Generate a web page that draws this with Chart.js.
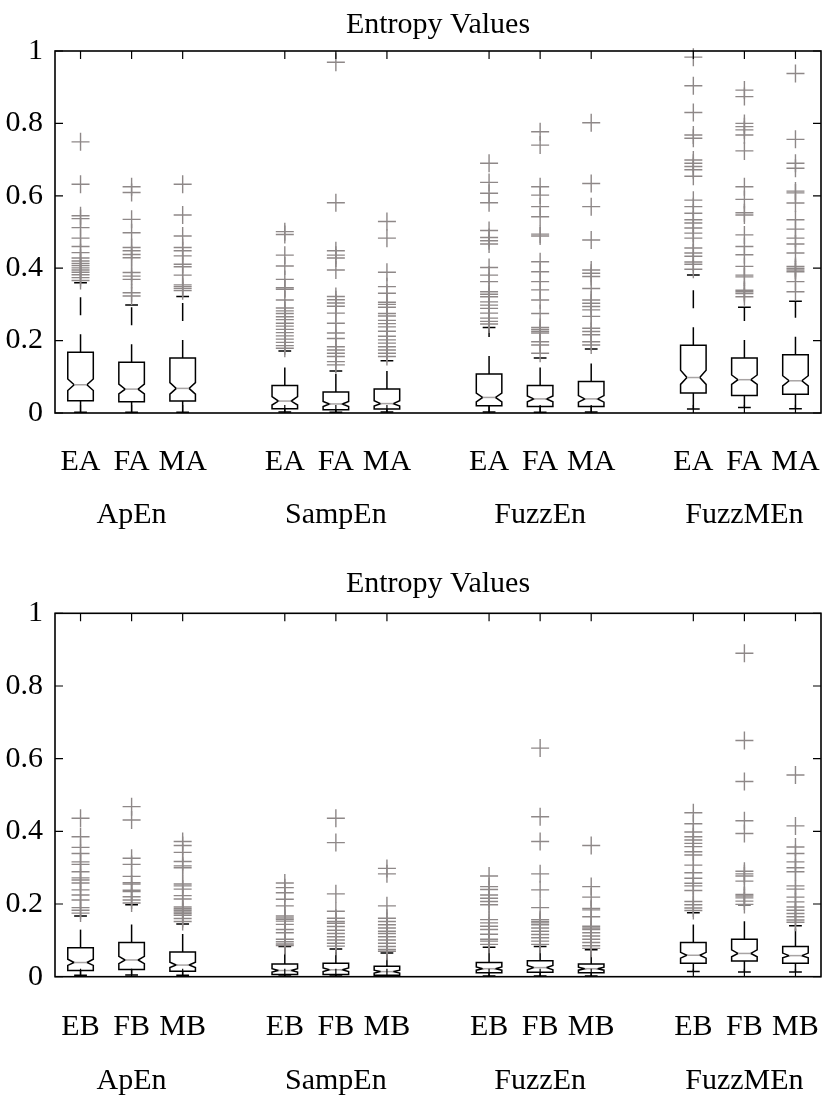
<!DOCTYPE html>
<html>
<head>
<meta charset="utf-8">
<script src="https://cdn.jsdelivr.net/npm/chart.js@4.4.1/dist/chart.umd.min.js"></script>
<style>
html,body{margin:0;padding:0;background:#fff;}
#wrap{position:relative;width:824px;height:1097px;overflow:hidden;}
#c1{position:absolute;left:0;top:0;}
#c2{position:absolute;left:0;top:560px;}
</style>
</head>
<body>
<div id="wrap">
<canvas id="c1" width="824" height="560"></canvas>
<canvas id="c2" width="824" height="537"></canvas>
</div>
<script>
// ---------- shared categories / ticks ----------
const groups = ['ApEn', 'SampEn', 'FuzzEn', 'FuzzMEn'];
const topSubs = ['EA', 'FA', 'MA'];
const botSubs = ['EB', 'FB', 'MB'];
const positions = [1, 2, 3, 5, 6, 7, 9, 10, 11, 13, 14, 15];
const yTickValues = [0, 0.2, 0.4, 0.6, 0.8, 1];
const yTickLabels = ['0', '0.2', '0.4', '0.6', '0.8', '1'];
const titleText = 'Entropy Values';

// ---------- top panel (EA / FA / MA) ----------
const topLowW   = [0.002, 0.002, 0.002, 0.003, 0.002, 0.003, 0.003, 0.002, 0.003, 0.011, 0.015, 0.012];
const topQ1     = [0.034, 0.031, 0.033, 0.012, 0.009, 0.011, 0.020, 0.018, 0.018, 0.055, 0.048, 0.052];
const topNotchLo= [0.062, 0.053, 0.052, 0.022, 0.018, 0.019, 0.031, 0.031, 0.030, 0.079, 0.079, 0.075];
const topMed    = [0.078, 0.066, 0.068, 0.033, 0.025, 0.026, 0.043, 0.039, 0.039, 0.098, 0.092, 0.089];
const topNotchHi= [0.094, 0.080, 0.084, 0.045, 0.032, 0.034, 0.055, 0.047, 0.048, 0.118, 0.105, 0.103];
const topQ3     = [0.168, 0.140, 0.152, 0.076, 0.058, 0.066, 0.108, 0.076, 0.087, 0.187, 0.152, 0.161];
const topHighW  = [0.360, 0.298, 0.322, 0.171, 0.116, 0.144, 0.236, 0.152, 0.177, 0.381, 0.292, 0.309];
const topOut = [
  [0.749, 0.632, 0.545, 0.537, 0.512, 0.483, 0.460, 0.443, 0.428, 0.420, 0.413, 0.407, 0.401, 0.395, 0.389, 0.382, 0.374, 0.366],
  [0.625, 0.609, 0.535, 0.498, 0.457, 0.448, 0.438, 0.429, 0.388, 0.378, 0.369, 0.332, 0.323],
  [0.632, 0.547, 0.489, 0.457, 0.448, 0.434, 0.411, 0.404, 0.381, 0.354, 0.349, 0.344, 0.338],
  [0.501, 0.493, 0.436, 0.406, 0.369, 0.346, 0.342, 0.312, 0.290, 0.282, 0.275, 0.266, 0.258, 0.248, 0.240, 0.231, 0.222, 0.213, 0.204, 0.195, 0.186, 0.179],
  [0.969, 0.581, 0.448, 0.436, 0.428, 0.395, 0.322, 0.313, 0.304, 0.295, 0.276, 0.248, 0.221, 0.206, 0.183, 0.174, 0.165, 0.156, 0.142, 0.133],
  [0.529, 0.483, 0.389, 0.349, 0.331, 0.306, 0.300, 0.292, 0.275, 0.268, 0.256, 0.247, 0.238, 0.226, 0.212, 0.202, 0.193, 0.183, 0.174, 0.165, 0.156],
  [0.690, 0.637, 0.607, 0.581, 0.504, 0.485, 0.476, 0.467, 0.402, 0.381, 0.363, 0.335, 0.328, 0.321, 0.307, 0.298, 0.289, 0.276, 0.262, 0.253, 0.246],
  [0.777, 0.740, 0.625, 0.602, 0.570, 0.542, 0.494, 0.489, 0.418, 0.390, 0.363, 0.340, 0.312, 0.275, 0.236, 0.231, 0.226, 0.221, 0.197, 0.188, 0.165],
  [0.802, 0.634, 0.570, 0.478, 0.395, 0.386, 0.377, 0.344, 0.312, 0.303, 0.294, 0.285, 0.267, 0.234, 0.225, 0.216, 0.197, 0.188],
  [0.983, 0.904, 0.830, 0.768, 0.759, 0.699, 0.690, 0.681, 0.672, 0.654, 0.588, 0.570, 0.552, 0.534, 0.525, 0.511, 0.497, 0.483, 0.456, 0.442, 0.433, 0.417, 0.411, 0.397],
  [0.892, 0.874, 0.800, 0.791, 0.782, 0.768, 0.724, 0.625, 0.590, 0.553, 0.547, 0.492, 0.460, 0.437, 0.405, 0.381, 0.376, 0.339, 0.335, 0.330, 0.321],
  [0.938, 0.756, 0.690, 0.676, 0.613, 0.608, 0.580, 0.534, 0.508, 0.483, 0.467, 0.442, 0.405, 0.400, 0.395, 0.390, 0.363, 0.335]
];

// ---------- bottom panel (EB / FB / MB) ----------
const botLowW   = [0.004, 0.005, 0.004, 0.002, 0.002, 0.001, 0.002, 0.002, 0.002, 0.014, 0.013, 0.013];
const botQ1     = [0.017, 0.020, 0.015, 0.006, 0.006, 0.004, 0.011, 0.012, 0.011, 0.037, 0.043, 0.037];
const botNotchLo= [0.031, 0.036, 0.025, 0.013, 0.014, 0.010, 0.018, 0.019, 0.018, 0.051, 0.055, 0.052];
const botMed    = [0.039, 0.046, 0.032, 0.017, 0.019, 0.014, 0.022, 0.025, 0.022, 0.059, 0.064, 0.058];
const botNotchHi= [0.048, 0.056, 0.040, 0.022, 0.024, 0.018, 0.027, 0.031, 0.026, 0.067, 0.074, 0.065];
const botQ3     = [0.080, 0.094, 0.068, 0.035, 0.037, 0.029, 0.039, 0.044, 0.035, 0.094, 0.103, 0.083];
const botHighW  = [0.167, 0.198, 0.145, 0.083, 0.076, 0.065, 0.081, 0.083, 0.074, 0.176, 0.198, 0.140];
const botOut = [
  [0.436, 0.385, 0.356, 0.339, 0.316, 0.309, 0.289, 0.272, 0.266, 0.258, 0.239, 0.225, 0.211, 0.190, 0.183, 0.175],
  [0.468, 0.431, 0.326, 0.309, 0.276, 0.259, 0.255, 0.238, 0.234, 0.220, 0.211, 0.203],
  [0.372, 0.361, 0.342, 0.317, 0.305, 0.300, 0.255, 0.250, 0.241, 0.223, 0.214, 0.192, 0.187, 0.183, 0.178, 0.174, 0.169, 0.160, 0.152],
  [0.258, 0.245, 0.231, 0.213, 0.195, 0.167, 0.162, 0.158, 0.153, 0.144, 0.130, 0.121, 0.103, 0.096, 0.090, 0.086],
  [0.436, 0.369, 0.228, 0.180, 0.161, 0.152, 0.147, 0.138, 0.128, 0.119, 0.110, 0.101, 0.092, 0.084],
  [0.298, 0.283, 0.195, 0.161, 0.152, 0.143, 0.134, 0.125, 0.119, 0.110, 0.101, 0.092, 0.083, 0.075, 0.070],
  [0.277, 0.248, 0.240, 0.225, 0.216, 0.207, 0.198, 0.157, 0.148, 0.139, 0.130, 0.117, 0.103, 0.098, 0.089],
  [0.629, 0.440, 0.372, 0.283, 0.239, 0.190, 0.157, 0.152, 0.148, 0.143, 0.134, 0.125, 0.116, 0.107, 0.098, 0.089],
  [0.361, 0.248, 0.219, 0.188, 0.184, 0.165, 0.139, 0.134, 0.130, 0.121, 0.112, 0.103, 0.094, 0.085, 0.078],
  [0.451, 0.421, 0.398, 0.385, 0.376, 0.367, 0.358, 0.344, 0.335, 0.307, 0.286, 0.271, 0.257, 0.250, 0.237, 0.207, 0.198, 0.189, 0.182],
  [0.890, 0.650, 0.537, 0.429, 0.394, 0.290, 0.283, 0.277, 0.263, 0.226, 0.222, 0.217, 0.208, 0.199],
  [0.555, 0.415, 0.357, 0.339, 0.316, 0.300, 0.289, 0.250, 0.241, 0.219, 0.206, 0.192, 0.183, 0.174, 0.165, 0.156, 0.150]
];

// ---------- drawing ----------
const FONT = "'Liberation Serif', 'Times New Roman', serif";
const OUTLIER_COLOR = '#8e8888';
const MEDIAN_COLOR = '#a8a4a4';

const notchBoxPlugin = {
  id: 'notchBoxes',
  beforeDatasetsDraw(chart, args, opts) {
    const xs = chart.scales.x, ys = chart.scales.y, ctx = chart.ctx;
    const hw = xs.getPixelForValue(1.25) - xs.getPixelForValue(1);
    const nw = hw * 0.5, cw = hw * 0.5;
    ctx.save();
    ctx.lineWidth = 1.5;
    ctx.strokeStyle = '#000';
    for (let i = 0; i < positions.length; i++) {
      const cx = xs.getPixelForValue(positions[i]);
      const yLo = ys.getPixelForValue(opts.low[i]);
      const yQ1 = ys.getPixelForValue(opts.q1[i]);
      const yNL = ys.getPixelForValue(opts.nlo[i]);
      const yMd = ys.getPixelForValue(opts.med[i]);
      const yNH = ys.getPixelForValue(opts.nhi[i]);
      const yQ3 = ys.getPixelForValue(opts.q3[i]);
      const yHi = ys.getPixelForValue(opts.high[i]);
      // dashed whiskers
      ctx.setLineDash([18, 19]);
      ctx.beginPath();
      ctx.moveTo(cx, yQ3); ctx.lineTo(cx, yHi);
      ctx.stroke();
      ctx.beginPath();
      ctx.moveTo(cx, yQ1); ctx.lineTo(cx, yLo);
      ctx.stroke();
      ctx.setLineDash([]);
      // caps
      ctx.beginPath();
      ctx.moveTo(cx - cw, yHi); ctx.lineTo(cx + cw, yHi);
      ctx.moveTo(cx - cw, yLo); ctx.lineTo(cx + cw, yLo);
      ctx.stroke();
      // notched box
      ctx.beginPath();
      ctx.moveTo(cx - hw, yQ1);
      ctx.lineTo(cx - hw, yNL);
      ctx.lineTo(cx - nw, yMd);
      ctx.lineTo(cx - hw, yNH);
      ctx.lineTo(cx - hw, yQ3);
      ctx.lineTo(cx + hw, yQ3);
      ctx.lineTo(cx + hw, yNH);
      ctx.lineTo(cx + nw, yMd);
      ctx.lineTo(cx + hw, yNL);
      ctx.lineTo(cx + hw, yQ1);
      ctx.closePath();
      ctx.stroke();
      // median
      ctx.save();
      ctx.strokeStyle = MEDIAN_COLOR;
      ctx.beginPath();
      ctx.moveTo(cx - nw, yMd); ctx.lineTo(cx + nw, yMd);
      ctx.stroke();
      ctx.restore();
    }
    ctx.restore();
  },
  afterDraw(chart, args, opts) {
    const a = chart.chartArea, ctx = chart.ctx;
    const xs = chart.scales.x, ys = chart.scales.y;
    ctx.save();
    // title centred over the plot area
    ctx.fillStyle = '#000';
    ctx.font = '30px ' + FONT;
    ctx.textAlign = 'center';
    ctx.textBaseline = 'alphabetic';
    ctx.fillText(opts.title, (a.left + a.right) / 2, opts.titleBaseline);
    // frame
    ctx.strokeStyle = '#000';
    ctx.lineWidth = 1.6;
    ctx.strokeRect(a.left, a.top, a.right - a.left, a.bottom - a.top);
    // inward ticks
    ctx.lineWidth = 1.2;
    ctx.beginPath();
    yTickValues.forEach(v => {
      const y = ys.getPixelForValue(v);
      ctx.moveTo(a.left, y); ctx.lineTo(a.left + 8, y);
      ctx.moveTo(a.right, y); ctx.lineTo(a.right - 8, y);
    });
    positions.forEach(p => {
      const x = xs.getPixelForValue(p);
      ctx.moveTo(x, a.top); ctx.lineTo(x, a.top + 8);
      ctx.moveTo(x, a.bottom); ctx.lineTo(x, a.bottom - 8);
    });
    ctx.stroke();
    ctx.restore();
  }
};

function makeLabels(subs) {
  return positions.map((p, i) => {
    const sub = subs[i % 3];
    return (i % 3 === 1) ? [sub, groups[Math.floor(i / 3)]] : [sub];
  });
}

function makeChart(canvasId, subs, stats, outs, layout) {
  const labels = makeLabels(subs);
  const pts = [];
  outs.forEach((list, i) => list.forEach(v => pts.push({ x: positions[i], y: v })));
  stats.title = titleText;
  stats.titleBaseline = layout.titleBaseline;
  return new Chart(document.getElementById(canvasId), {
    type: 'scatter',
    data: {
      datasets: [{
        data: pts,
        pointStyle: 'cross',
        pointRadius: 9,
        pointHoverRadius: 9,
        borderColor: OUTLIER_COLOR,
        backgroundColor: OUTLIER_COLOR,
        borderWidth: 1.4,
        clip: false
      }]
    },
    plugins: [notchBoxPlugin],
    options: {
      responsive: false,
      animation: false,
      events: [],
      layout: { autoPadding: false, padding: { left: 0, right: 3, top: layout.areaTop, bottom: 0 } },
      plugins: {
        legend: { display: false },
        tooltip: { enabled: false },
        title: { display: false },
        notchBoxes: stats
      },
      scales: {
        x: {
          type: 'linear',
          min: 0.5, max: 15.5,
          afterBuildTicks(s) { s.ticks = positions.map(v => ({ value: v })); },
          afterFit(s) { s.height = layout.xAxisHeight; s.paddingLeft = 0; s.paddingRight = 0; },
          ticks: {
            autoSkip: false, maxRotation: 0, minRotation: 0,
            padding: 23,
            color: '#000',
            font: { family: FONT, size: 30, lineHeight: layout.lineH / 30 },
            callback: (v, i) => labels[i]
          },
          grid: { display: false, drawTicks: false },
          border: { display: false }
        },
        y: {
          min: 0, max: 1,
          afterBuildTicks(s) { s.ticks = yTickValues.map(v => ({ value: v })); },
          afterFit(s) { s.width = 55; s.paddingTop = 0; s.paddingBottom = 0; },
          ticks: {
            padding: 12,
            color: '#000',
            font: { family: FONT, size: 30 },
            callback: (v, i) => yTickLabels[i]
          },
          grid: { display: false, drawTicks: false },
          border: { display: false }
        }
      }
    }
  });
}

Chart.defaults.font.family = FONT;

makeChart('c1', topSubs,
  { low: topLowW, q1: topQ1, nlo: topNotchLo, med: topMed, nhi: topNotchHi, q3: topQ3, high: topHighW },
  topOut,
  { areaTop: 51, titleBaseline: 33, xAxisHeight: 147, lineH: 52.5 });

makeChart('c2', botSubs,
  { low: botLowW, q1: botQ1, nlo: botNotchLo, med: botMed, nhi: botNotchHi, q3: botQ3, high: botHighW },
  botOut,
  { areaTop: 53.3, titleBaseline: 32, xAxisHeight: 120.3, lineH: 54 });
</script>
</body>
</html>
